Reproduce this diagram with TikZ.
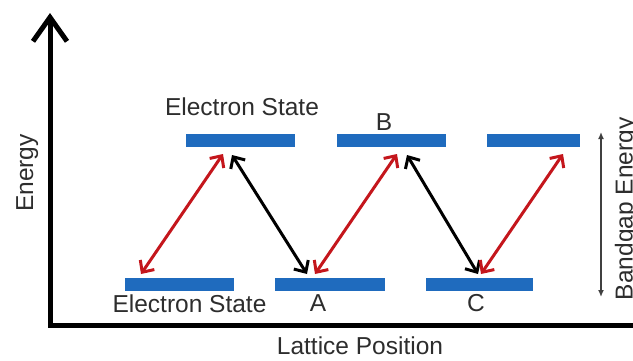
\documentclass[tikz,border=0pt]{standalone}
\usepackage{fontspec}
\setmainfont{Liberation Sans}
\usetikzlibrary{arrows.meta}
\definecolor{barblue}{RGB}{31,107,190}
\definecolor{arrred}{RGB}{196,22,28}
\definecolor{txt}{RGB}{45,45,45}
\definecolor{gapgray}{RGB}{64,64,64}
\begin{document}
\begin{tikzpicture}[x=1pt,y=-1pt,
  bar/.style={fill=barblue, draw=none, minimum height=13pt, inner sep=0pt, outer sep=0pt},
  lbl/.style={text=txt, font=\fontsize{24.5}{29}\selectfont, inner sep=0pt, outer sep=0pt},
  trans/.style={line width=3pt, {Straight Barb[length=9pt,width=17pt]}-{Straight Barb[length=9pt,width=17pt]}},
  axis/.style={line width=5pt, line join=miter},
  gap/.style={gapgray, line width=1.4pt, {Latex[length=7pt,width=6pt]}-{Latex[length=7pt,width=6pt]}}
]
\useasboundingbox (0,0) rectangle (633,360);

% axes
\coordinate (ytip) at (50,13);
\coordinate (origin) at (50,325);
\coordinate (xend) at (645,325);
\draw[axis, {Straight Barb[length=24pt,width=34pt]}-] (ytip) -- (origin) -- (xend);

% energy levels
\node[bar, minimum width=109pt] (t1) at (240.5,140) {};
\node[bar, minimum width=109pt] (tB) at (391.5,140) {};
\node[bar, minimum width=93pt]  (t3) at (533.5,140) {};
\node[bar, minimum width=109pt] (b1) at (179.5,284) {};
\node[bar, minimum width=110pt] (bA) at (330,284) {};
\node[bar, minimum width=107pt] (bC) at (479.5,284) {};

% labels
\node[lbl] (es1) at (242,107) {Electron State};
\node[lbl] (es2) at (189.5,304) {Electron State};
\node[lbl] (la) at (318,303) {A};
\node[lbl] (lb) at (384,122) {B};
\node[lbl] (lc) at (476,303) {C};
\node[lbl] (xl) at (360,346) {Lattice Position};
\node[lbl, rotate=90, anchor=base] (yl) at (33,173) {Energy};
\node[lbl, rotate=90, anchor=base west] (gl) at (632.5,300) {Bandgap Energy};

% transition end points
\coordinate (r1a) at (141,274); \coordinate (r1b) at (223,154);
\coordinate (k1a) at (232,155); \coordinate (k1b) at (307,274);
\coordinate (r2a) at (315,274); \coordinate (r2b) at (397,154);
\coordinate (k2a) at (407,155); \coordinate (k2b) at (478,274);
\coordinate (r3a) at (481,274); \coordinate (r3b) at (563,154);

\draw[trans, arrred] (r1a) -- (r1b);
\draw[trans, black] (k1a) -- (k1b);
\draw[trans, arrred] (r2a) -- (r2b);
\draw[trans, black] (k2a) -- (k2b);
\draw[trans, arrred] (r3a) -- (r3b);

% bandgap arrow
\coordinate (g1) at (601,132);
\coordinate (g2) at (601,297);
\draw[gap] (g1) -- (g2);
\end{tikzpicture}
\end{document}
